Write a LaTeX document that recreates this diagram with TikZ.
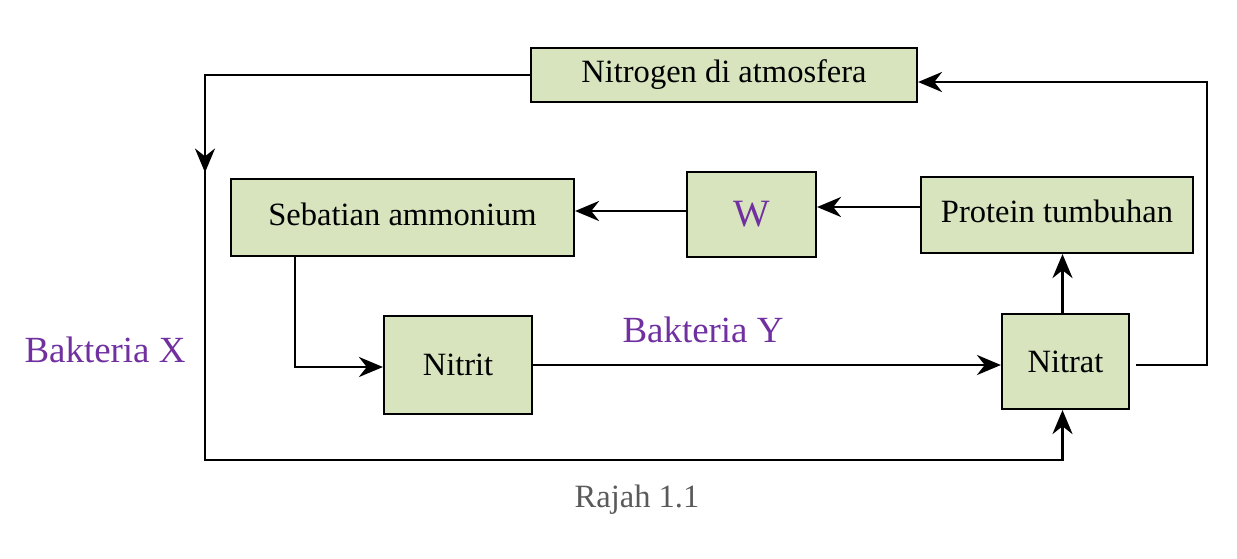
\documentclass[tikz,border=0pt]{standalone}
\usepackage{fontspec}
\setmainfont{Liberation Serif}
\usetikzlibrary{arrows.meta,calc}

\definecolor{boxgreen}{RGB}{216,228,190}
\definecolor{labpurple}{RGB}{112,48,160}
\definecolor{capgray}{RGB}{90,90,90}

\begin{document}
\begin{tikzpicture}[
  x=1cm,
  y=1cm,
  >={Stealth[length=0.48cm,width=0.40cm]},
  box/.style={draw, line width=1.2pt, fill=boxgreen, align=center, inner sep=2pt, font=\fontsize{18.5}{22}\selectfont},
  link/.style={line width=1.6pt},
  lab/.style={text=labpurple, font=\fontsize{21}{25}\selectfont}
]
  \useasboundingbox (0,0) rectangle (24.74,-11.16);

  \node[box, minimum width=7.72cm, minimum height=1.08cm] (atm) at (14.48,-1.50) {Nitrogen di atmosfera};
  \node[box, minimum width=6.86cm, minimum height=1.54cm] (amm) at (8.05,-4.35) {\raisebox{0.14cm}{Sebatian ammonium}};
  \node[box, minimum width=2.58cm, minimum height=1.70cm, text=labpurple, font=\fontsize{22}{26}\selectfont] (W) at (15.03,-4.29) {W};
  \node[box, minimum width=5.44cm, minimum height=1.52cm] (prot) at (21.14,-4.30) {\raisebox{0.14cm}{Protein tumbuhan}};
  \node[box, minimum width=2.96cm, minimum height=1.96cm] (nitrit) at (9.16,-7.30) {Nitrit};
  \node[box, minimum width=2.54cm, minimum height=1.90cm] (nitrat) at (21.31,-7.23) {Nitrat};

  \node[lab] (bakX) at (2.10,-7.00) {Bakteria X};
  \node[lab] (bakY) at (14.06,-6.60) {Bakteria Y};
  \node[text=capgray, font=\fontsize{18.5}{22}\selectfont] (cap) at (12.74,-10.00) {Rajah 1.1};

  \coordinate (topL) at (4.10,-1.50);
  \coordinate (midL) at (4.10,-3.45);
  \coordinate (botL) at (4.10,-9.20);
  \coordinate (rightR) at (24.14,-7.30);

  \draw[link,->] (atm.west) -- (topL) -- (botL) -| ([xshift=-0.06cm]nitrat.south);
  \draw[link,->] (topL) -- (midL);

  \draw[link,->] ($(amm.south west)+(1.30,0)$) |- ([yshift=-0.04cm]nitrit.west);
  \draw[link,->] (nitrit.east) -- (nitrit.east -| nitrat.west);
  \draw[link,->] ([yshift=0.07cm]W.west) -- ([yshift=0.07cm]W.west -| amm.east);
  \draw[link,->] ([yshift=0.16cm]prot.west) -- ([yshift=0.16cm]prot.west -| W.east);
  \draw[link,->] ([xshift=-0.06cm]nitrat.north) -- ([xshift=-0.06cm]nitrat.north |- prot.south);
  \draw[link,->] ($(nitrat.east)+(0.12,-0.07)$) -- (rightR) |- ([yshift=-0.14cm]atm.east);
\end{tikzpicture}
\end{document}
